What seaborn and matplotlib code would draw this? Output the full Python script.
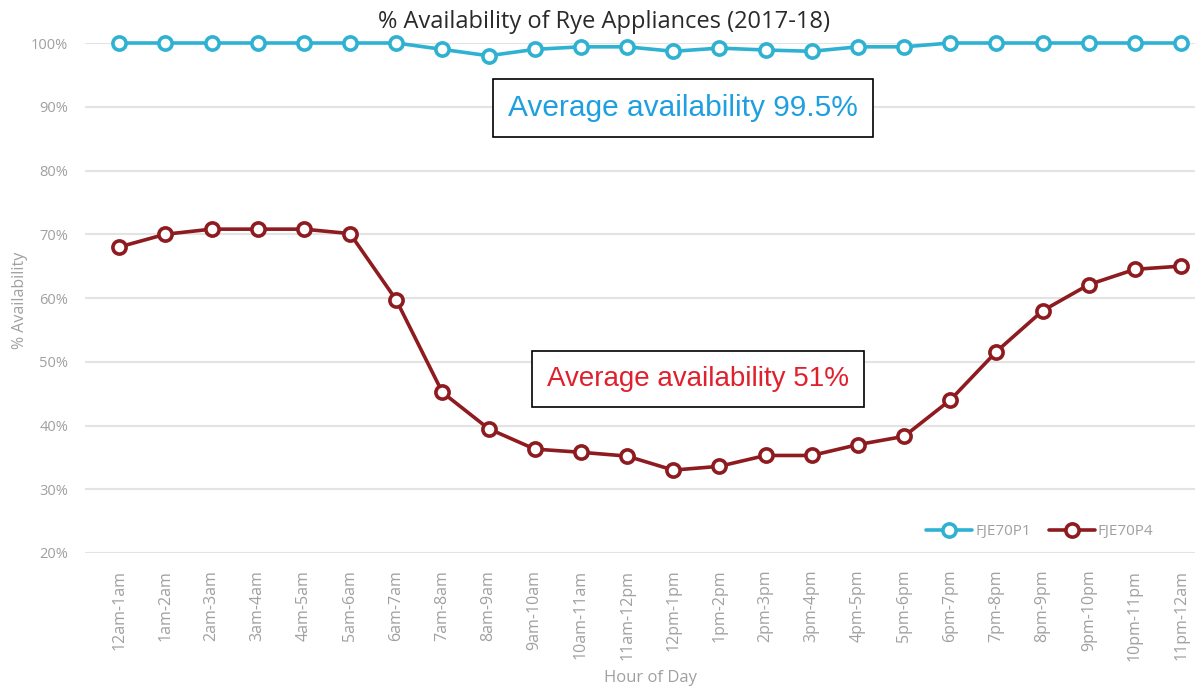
import numpy as np
import pandas as pd
import matplotlib
matplotlib.use("Agg")
import matplotlib.pyplot as plt
import seaborn as sns

# data
hours = ["12am-1am", "1am-2am", "2am-3am", "3am-4am", "4am-5am", "5am-6am",
         "6am-7am", "7am-8am", "8am-9am", "9am-10am", "10am-11am", "11am-12pm",
         "12pm-1pm", "1pm-2pm", "2pm-3pm", "3pm-4pm", "4pm-5pm", "5pm-6pm",
         "6pm-7pm", "7pm-8pm", "8pm-9pm", "9pm-10pm", "10pm-11pm", "11pm-12am"]
fje70p1 = [100, 100, 100, 100, 100, 100, 100, 99.0, 98.0, 99.0, 99.4, 99.4,
           98.7, 99.2, 98.9, 98.7, 99.4, 99.4, 100, 100, 100, 100, 100, 100]
fje70p4 = [68.0, 70.0, 70.8, 70.8, 70.8, 70.1, 59.7, 45.2, 39.5, 36.3, 35.8, 35.2,
           33.0, 33.6, 35.3, 35.3, 37.0, 38.3, 44.0, 51.6, 58.0, 62.1, 64.5, 65.0]
yticks = [20, 30, 40, 50, 60, 70, 80, 90, 100]

df = pd.DataFrame({"hour": hours, "FJE70P1": fje70p1, "FJE70P4": fje70p4})
df["x"] = np.arange(len(hours))

sns.set_style("white")
plt.rcParams["font.family"] = ["Open Sans", "DejaVu Sans"]

BLUE = "#2fb2d2"
RED = "#8e1b1f"
GREY = "#a0a0a0"

W, H = 1195, 693
fig = plt.figure(figsize=(W / 100, H / 100), dpi=100)
ax = fig.add_axes([85 / W, 1 - 553 / H, 1 - 85 / W, 510 / H])

for col, color in [("FJE70P1", BLUE), ("FJE70P4", RED)]:
    sns.lineplot(data=df, x="x", y=col, ax=ax, color=color, linewidth=2.6,
                 marker="o", markersize=9.5, markerfacecolor="white",
                 markeredgecolor=color, markeredgewidth=2.6, label=col,
                 clip_on=False, zorder=3)

ax.set_xlim(-0.74, 23.3)
ax.set_ylim(20, 100)
ax.set_yticks(yticks)
ax.set_yticklabels([f"{v}%" for v in yticks])
ax.set_xticks(df["x"])
ax.set_xticklabels(hours, rotation=90)
ax.tick_params(axis="y", colors=GREY, labelsize=10.5, length=0, pad=12)
ax.tick_params(axis="x", colors=GREY, labelsize=11.5, length=0, pad=12)
ax.yaxis.grid(True, color="#e3e3e3", linewidth=1.5)
ax.xaxis.grid(False)
for s in ax.spines.values():
    s.set_visible(False)

ax.set_xlabel("Hour of Day", color=GREY, fontsize=12)
ax.xaxis.set_label_coords((650 - 85) / 1110, -(670 - 553) / 510)
ax.set_ylabel("% Availability", color=GREY, fontsize=11.5)
ax.yaxis.set_label_coords(-(85 - 28) / 1110, (553 - 300) / 510)
fig.text(604 / W, 1 - 22 / H, "% Availability of Rye Appliances (2017-18)",
         ha="center", va="center", fontsize=17, color="#2a2a2a")

# average boxes (centres in axes fraction)
ax.text((683 - 85) / 1110, (553 - 108) / 510, "Average availability 99.5%",
        transform=ax.transAxes, ha="center", va="center", fontsize=21.5,
        color="#1e9fe0", family=["Liberation Sans"],
        bbox=dict(boxstyle="square,pad=0.5", fc="white", ec="black", lw=1.2))
ax.text((698 - 85) / 1110, (553 - 379) / 510, "Average availability 51%",
        transform=ax.transAxes, ha="center", va="center", fontsize=20,
        color="#e0202c", family=["Liberation Sans"],
        bbox=dict(boxstyle="square,pad=0.55", fc="white", ec="black", lw=1.2))

leg = ax.legend(loc="lower right", bbox_to_anchor=(0.975, 0.0), ncol=2,
                frameon=False, fontsize=11, handlelength=3.0, columnspacing=1.2,
                handletextpad=0.2)
for t in leg.get_texts():
    t.set_color(GREY)

fig.savefig("out.png", dpi=100)
